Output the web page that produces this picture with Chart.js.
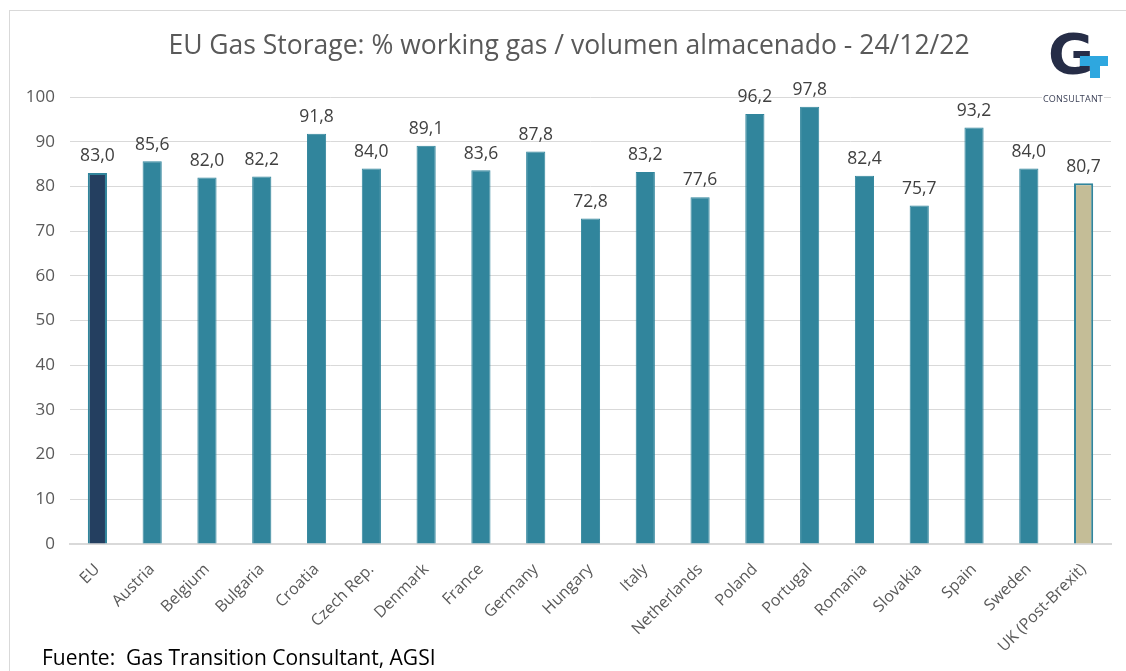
<!DOCTYPE html>
<html>
<head>
<meta charset="utf-8">
<script src="https://cdn.jsdelivr.net/npm/chart.js@4"></script>
<style>
  html, body { margin: 0; padding: 0; background: #fff; }
  #wrap { position: relative; width: 1126px; height: 671px; overflow: hidden; font-family: "Open Sans", sans-serif; }
  #frame { position: absolute; left: 9px; top: 10px; width: 1200px; height: 700px; border: 1px solid #d9d9d9; }
  #title { position: absolute; left: 0; width: 1138px; top: 26px; text-align: center; font-size: 26.5px; color: #595959; }
  #source { position: absolute; left: 42px; top: 643px; font-size: 21px; color: #000; }
  #logo { position: absolute; left: 1040px; top: 36px; width: 76px; height: 70px; }
  #logo .g { position: absolute; left: 8px; top: -15px; font-family: "DejaVu Sans", sans-serif; font-weight: bold; font-size: 56px; color: #262d47; }
  #logo .t1 { position: absolute; left: 40px; top: 20px; width: 28px; height: 10px; background: #2ea7df; }
  #logo .t2 { position: absolute; left: 50px; top: 20px; width: 10px; height: 22px; background: #2ea7df; }
  #logo .c { position: absolute; left: 2px; top: 56px; font-size: 9px; color: #3a3f55; background: #fff; padding: 0 1px; letter-spacing: 0.2px; }
  canvas { position: absolute; left: 0; top: 0; }
</style>
</head>
<body>
<div id="wrap">
  <div id="frame"></div>
  <canvas id="chart" width="1126" height="671"></canvas>
  <div id="title">EU Gas Storage: % working gas / volumen almacenado - 24/12/22</div>
  <div id="logo"><span class="g">G</span><div class="t1"></div><div class="t2"></div><span class="c">CONSULTANT</span></div>
  <div id="source">Fuente:&nbsp; Gas Transition Consultant, AGSI</div>
</div>
<script>
// datos
var countries = ["EU", "Austria", "Belgium", "Bulgaria", "Croatia", "Czech Rep.", "Denmark", "France", "Germany",
    "Hungary", "Italy", "Netherlands", "Poland", "Portugal", "Romania", "Slovakia", "Spain", "Sweden", "UK (Post-Brexit)"];
var storage = [83.0, 85.6, 82.0, 82.2, 91.8, 84.0, 89.1, 83.6, 87.8, 72.8, 83.2, 77.6, 96.2, 97.8, 82.4, 75.7, 93.2, 84.0, 80.7];
var yTicks = [0, 10, 20, 30, 40, 50, 60, 70, 80, 90, 100];

var teal = "#31859c";
var fillColors = countries.map(function (c, i) {
    if (i === 0) return "#243f60";
    if (i === countries.length - 1) return "#c4bd97";
    return teal;
});
var borderW = countries.map(function (c, i) {
    return (i === 0 || i === countries.length - 1) ? 2 : 1;
});

// etiquetas encima de las barras
var valueLabels = {
    id: "valueLabels",
    afterDatasetsDraw: function (chart) {
        var ctx = chart.ctx;
        var meta = chart.getDatasetMeta(0);
        ctx.save();
        ctx.font = "17.5px 'Open Sans'";
        ctx.fillStyle = "#404040";
        ctx.textAlign = "center";
        ctx.textBaseline = "bottom";
        meta.data.forEach(function (bar, i) {
            ctx.fillText(storage[i].toFixed(1).replace(".", ","), bar.x, bar.y - 8);
        });
        ctx.restore();
    }
};

new Chart(document.getElementById("chart"), {
    type: "bar",
    data: {
        labels: countries,
        datasets: [{
            data: storage,
            backgroundColor: fillColors,
            borderColor: teal,
            borderWidth: borderW,
            barPercentage: 0.35,
            categoryPercentage: 1
        }]
    },
    options: {
        responsive: false,
        animation: false,
        layout: { padding: { top: 97, right: 15, left: 0, bottom: 0 } },
        plugins: {
            legend: { display: false },
            title: { display: false },
            tooltip: { enabled: false }
        },
        scales: {
            x: {
                grid: { display: false },
                border: { color: "#d9d9d9", width: 2 },
                ticks: {
                    color: "#595959",
                    font: { family: "Open Sans", size: 16 },
                    maxRotation: 45,
                    minRotation: 45,
                    padding: 8
                },
                afterFit: function (scale) { scale.height = 127; }
            },
            y: {
                min: 0,
                max: 100,
                afterBuildTicks: function (scale) {
                    scale.ticks = yTicks.map(function (v) { return { value: v }; });
                },
                grid: { color: "#d9d9d9", drawTicks: false },
                border: { display: false },
                ticks: {
                    color: "#595959",
                    font: { family: "Open Sans", size: 17 },
                    padding: 15
                },
                afterFit: function (scale) { scale.width = 70; }
            }
        }
    },
    plugins: [valueLabels]
});
</script>
</body>
</html>
